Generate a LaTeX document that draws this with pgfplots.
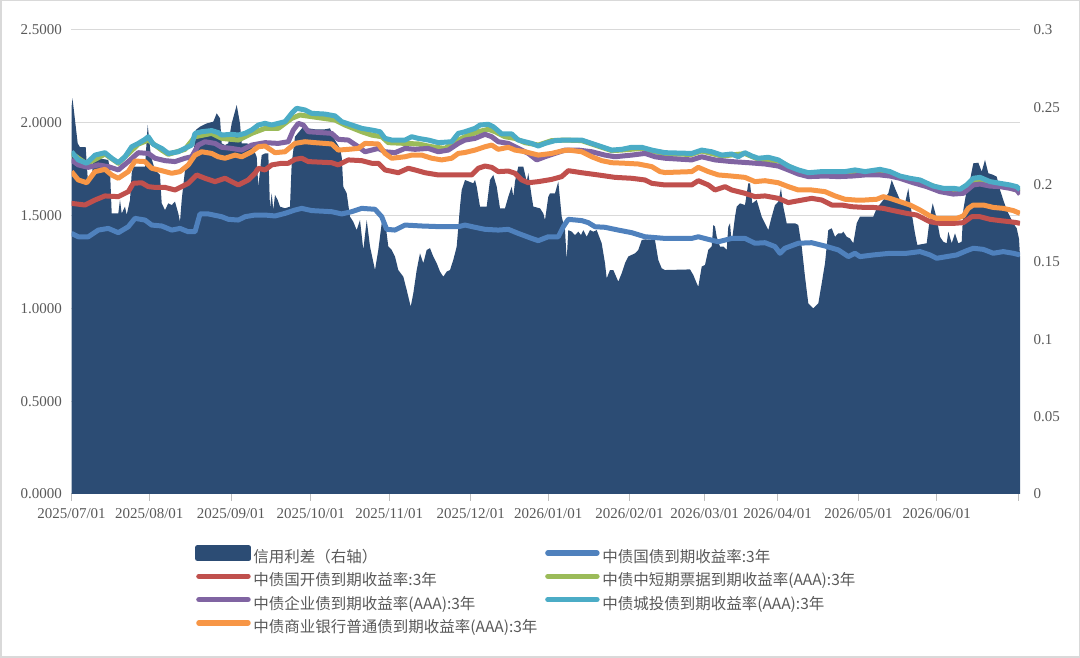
\documentclass[border=0pt]{standalone}
\usepackage{pgfplots}
\pgfplotsset{compat=1.18}
\usepackage{fontspec}
\setmainfont{Liberation Serif}
\newfontfamily\cjk{Noto Sans CJK SC}
\definecolor{navy}{HTML}{2C4C74}
\definecolor{cblue}{HTML}{4F81BD}
\definecolor{cred}{HTML}{C0504D}
\definecolor{cgreen}{HTML}{9BBB59}
\definecolor{cpurple}{HTML}{8064A2}
\definecolor{cteal}{HTML}{4BACC6}
\definecolor{corange}{HTML}{F79646}
\definecolor{labelgray}{HTML}{595959}
\definecolor{gridgray}{HTML}{D9D9D9}
\definecolor{axisgray}{HTML}{BFBFBF}
\pgfplotsset{common/.style={scale only axis, width=948.5pt, height=464pt,
  at={(71.5pt,164pt)}, anchor=south west, xmin=71.5, xmax=1020}}
\begin{document}
\begin{tikzpicture}[x=1pt,y=1pt]
\useasboundingbox (0,0) rectangle (1080,658);
\draw[draw=gridgray, line width=1.5pt] (0.75,0.75) rectangle (1079.25,657.25);
% axis A: grid, left labels, dates
\begin{axis}[common, ymin=0, ymax=2.5,
  ytick={0,0.5,1,1.5,2,2.5},
  yticklabels={0.0000,0.5000,1.0000,1.5000,2.0000,2.5000},
  ymajorgrids, grid style={draw=gridgray, line width=1pt},
  axis x line*=bottom, axis y line*=left,
  y axis line style={draw=none},
  x axis line style={draw=axisgray, line width=1pt, -},
  ytick style={draw=none},
  xtick={71.5,149.3,231,310.7,389.3,470.7,548.2,629.5,704.6,777.6,858.5,936.7,1018},
  xticklabels={2025/07/01,2025/08/01,2025/09/01,2025/10/01,2025/11/01,2025/12/01,2026/01/01,2026/02/01,2026/03/01,2026/04/01,2026/05/01,2026/06/01,{}},
  xtick align=outside, xtick style={draw=axisgray, line width=1pt},
  major tick length=7pt,
  tick label style={font=\fontsize{15}{18}\selectfont, text=labelgray},
  xticklabel style={yshift=-4pt},
  yticklabel style={xshift=-6pt}]
\addplot[draw=none] coordinates {(500,1)};
\end{axis}
% axis B: credit spread area, right axis
\begin{axis}[common, ymin=0, ymax=0.3,
  axis y line*=right, axis x line=none,
  y axis line style={draw=none}, ytick style={draw=none},
  xtick=\empty,
  ytick={0,0.05,0.1,0.15,0.2,0.25,0.3},
  yticklabels={0,0.05,0.1,0.15,0.2,0.25,0.3},
  yticklabel style={font=\fontsize{15}{18}\selectfont, text=labelgray, xshift=10pt}]
\addplot[fill=navy, draw=none] coordinates {
(71.5,.2500)(72.5,.2558)(77.7,.2267)(80,.2242)(85.7,.2242)(87.7,.2041)(91.7,.2041)(93.5,.2171)(98.3,.2171)(108.3,.2160)(110,.2095)(111.7,.1814)(118.3,.1814)(120,.1901)(121.7,.1814)(125,.1858)(126.7,.1804)(130,.1901)(131.7,.2074)(133.3,.2117)(145,.2117)(147.7,.2386)(151,.2180)(155,.2095)(160,.2063)(161.7,.1879)(165,.1836)(168.3,.1879)(171.7,.1868)(175,.1890)(178.3,.1814)(180,.1760)(181.7,.1901)(185,.2095)(190,.2138)(193.3,.2180)(195.7,.2353)(200,.2375)(206.7,.2396)(213.3,.2407)(216.7,.2461)(220,.2429)(221.7,.2267)(225,.2256)(228.3,.2267)(231.7,.2396)(236.7,.2515)(240,.2396)(241.7,.2267)(246.7,.2267)(251.7,.2256)(256.7,.2180)(258.3,.1987)(261.7,.2191)(265,.2202)(268.3,.2202)(270,.1847)(271.7,.1944)(273.3,.1836)(275,.1933)(277.7,.1901)(280,.1858)(285,.1847)(290,.1858)(291.7,.2138)(295,.2310)(303.3,.2375)(308.3,.2364)(315,.2358)(325,.2358)(330,.2364)(335,.2288)(340,.2234)(341.7,.2180)(343.3,.1987)(346.7,.1944)(350,.1793)(353.3,.1760)(356.7,.1706)(360,.1771)(363.3,.1578)(366.7,.1771)(370,.1600)(375,.1448)(378.3,.1578)(381.7,.1750)(385,.1771)(388.3,.1600)(391.7,.1578)(395,.1535)(398.3,.1448)(403.3,.1405)(406.7,.1319)(410.7,.1211)(413.3,.1297)(416.7,.1448)(420,.1556)(423.3,.1492)(426.7,.1578)(430,.1589)(433.3,.1535)(436.7,.1492)(440,.1438)(443.3,.1405)(446.7,.1438)(450,.1448)(453.3,.1513)(456.7,.1600)(460,.1858)(461.7,.1966)(465,.2030)(473.3,.2009)(475,.2030)(476.7,.1987)(480,.1858)(486.7,.1858)(490,.2030)(493.3,.2063)(496.7,.1987)(500,.1847)(505,.1847)(508.3,.1922)(511.7,.1987)(513.3,.1922)(515,.2020)(518.3,.2117)(523.3,.2117)(526.7,.2020)(528.3,.2074)(531.7,.1922)(533.3,.1858)(540,.1847)(543.3,.1814)(545,.1771)(548.3,.1922)(550,.1944)(555,.1944)(558.3,.2020)(561.7,.1793)(565,.1706)(566.7,.1513)(568.3,.1706)(571.7,.1696)(575,.1674)(578.3,.1696)(581,.1674)(583.3,.1706)(586.7,.1663)(590,.1706)(593.3,.1696)(596.7,.1706)(601.7,.1621)(605,.1492)(606.7,.1394)(610,.1448)(613.3,.1448)(618.3,.1373)(621.7,.1427)(625,.1492)(628.3,.1535)(631.7,.1546)(635,.1556)(638.3,.1578)(641.7,.1642)(645,.1646)(655,.1642)(658.3,.1513)(661.7,.1459)(665,.1448)(690,.1452)(693.3,.1416)(696.7,.1362)(698.3,.1340)(700,.1405)(701.7,.1470)(705,.1481)(708.3,.1578)(711.7,.1600)(713.3,.1739)(715,.1728)(716.7,.1663)(720,.1600)(723.3,.1600)(726.7,.1578)(728.3,.1728)(730,.1750)(731.7,.1621)(733.3,.1706)(735,.1793)(736.7,.1858)(740,.1879)(745,.1868)(748.3,.2009)(750,.2009)(752.3,.1879)(756.7,.1901)(761.7,.1793)(765,.1750)(768.3,.1706)(771.7,.1793)(775,.1868)(778.3,.1890)(781,.1976)(783.3,.1858)(786.7,.1750)(795,.1750)(798.3,.1739)(801.7,.1600)(805,.1405)(808.3,.1232)(813.3,.1200)(818.3,.1232)(821.7,.1362)(825,.1492)(828.3,.1706)(831.7,.1718)(835,.1663)(838.3,.1685)(841.7,.1685)(843.3,.1696)(846.7,.1663)(850,.1652)(853.3,.1621)(856.7,.1750)(860,.1793)(873.3,.1793)(876.7,.1847)(883.3,.1901)(888.3,.1944)(891.7,.2030)(895,.1976)(900,.1901)(905,.1879)(908.3,.1976)(911.7,.1814)(915,.1685)(917.3,.1610)(926.7,.1621)(930,.1793)(932.7,.1879)(936.7,.1782)(940,.1663)(943.3,.1631)(946.7,.1621)(948.3,.1696)(951.7,.1621)(955,.1685)(958.3,.1621)(961.7,.1631)(963.3,.1836)(966.7,.1966)(970,.2030)(973.3,.2138)(978.3,.2142)(981.7,.2084)(985,.2160)(988.3,.2074)(993.3,.2063)(996.7,.2052)(1000,.1966)(1003.3,.1901)(1006.7,.1836)(1010,.1793)(1013.3,.1750)(1016.7,.1718)(1019,.1650)(1020,.1540)
} \closedcycle;
\end{axis}
% axis C: yield lines + legend
\begin{axis}[common, ymin=0, ymax=2.5, hide axis,
  every axis plot/.append style={line width=5pt, line join=round},
  legend image code/.code={\draw[#1, line width=5.5pt, line cap=round] (3pt,5.5pt) -- (52pt,5.5pt); \path (0pt,0pt) (55pt,11pt);},
  legend columns=2, legend cell align=left,
  legend style={at={(axis description cs:0.1286,-0.1099)}, anchor=north west,
    draw=none, fill=none, inner sep=0pt, outer sep=0pt,
    row sep=2.8pt, column sep=0pt,
    nodes={inner sep=0pt, text height=11pt, text depth=3pt},
    /tikz/every even column/.append style={column sep=5pt},
    font=\cjk\fontsize{15.5}{18}\selectfont, text=labelgray}]
\addlegendimage{legend image code/.code={\fill[navy] (1.5pt,0pt) rectangle (53pt,10.7pt); \path (0pt,0pt) (55pt,11pt);}}
\addlegendentry{信用利差（右轴）}
\addplot[cblue] coordinates {
(71.5,1.404)(78.3,1.386)(88.3,1.386)(98.3,1.422)(108.3,1.431)(118.3,1.408)(128.3,1.440)(135,1.485)(145,1.476)(151.7,1.449)(161.7,1.444)(171.7,1.422)(180,1.431)(188.3,1.413)(195,1.413)(200,1.509)(208.3,1.509)(221.7,1.494)(228.3,1.480)(238.3,1.476)(245,1.494)(255,1.503)(265,1.503)(275,1.498)(285,1.512)(295,1.530)(301.7,1.539)(311.7,1.527)(331.7,1.521)(341.7,1.509)(351.7,1.521)(361.7,1.539)(375,1.534)(381.7,1.494)(386.7,1.426)(395,1.422)(405,1.449)(421.7,1.444)(441.7,1.440)(458.3,1.440)(465,1.449)(475,1.437)(485,1.426)(498.3,1.422)(508.3,1.426)(518.3,1.404)(531.7,1.377)(538.3,1.365)(548.3,1.386)(558.3,1.386)(563.3,1.440)(568.3,1.480)(581.7,1.473)(588.3,1.462)(595,1.440)(605,1.437)(618.3,1.422)(631.7,1.408)(645,1.386)(665,1.377)(691.7,1.377)(698.3,1.386)(708.3,1.372)(718.3,1.359)(731.7,1.377)(745,1.377)(755,1.351)(765,1.354)(775,1.333)(780,1.297)(785,1.324)(798.3,1.351)(811.7,1.354)(825,1.336)(838.3,1.315)(848.3,1.279)(855,1.297)(860,1.279)(873.3,1.288)(890,1.297)(906.7,1.297)(920,1.306)(930,1.288)(936.7,1.270)(946.7,1.279)(956.7,1.288)(966.7,1.311)(973.3,1.324)(983.3,1.318)(993.3,1.297)(1003.3,1.306)(1013.3,1.297)(1020,1.288)
};
\addlegendentry{中债国债到期收益率:3年}
\addplot[cred] coordinates {
(71.5,1.566)(85,1.557)(95,1.584)(105,1.606)(118.3,1.602)(128.3,1.629)(133.3,1.674)(141.7,1.677)(148.3,1.656)(155,1.652)(165,1.652)(175,1.638)(181.7,1.656)(188.3,1.674)(196.7,1.719)(205,1.701)(215,1.683)(225,1.701)(238.3,1.665)(248.3,1.692)(255,1.728)(258.3,1.755)(265,1.746)(271.7,1.773)(281.7,1.782)(288.3,1.782)(295,1.803)(301.7,1.809)(308.3,1.791)(331.7,1.785)(338.3,1.773)(348.3,1.800)(361.7,1.796)(371.7,1.782)(378.3,1.782)(385,1.746)(398.3,1.731)(408.3,1.755)(415,1.746)(425,1.731)(438.3,1.719)(451.7,1.719)(465,1.720)(471.7,1.719)(478.3,1.755)(485,1.767)(491.7,1.760)(498.3,1.737)(508.3,1.740)(515,1.728)(521.7,1.692)(528.3,1.677)(538.3,1.683)(551.7,1.695)(561.7,1.710)(568.3,1.742)(581.7,1.731)(598.3,1.719)(615,1.706)(631.7,1.701)(645,1.692)(651.7,1.674)(665,1.665)(691.7,1.665)(698.3,1.688)(708.3,1.665)(715,1.638)(725,1.656)(731.7,1.638)(745,1.620)(755,1.602)(765,1.606)(778.3,1.593)(788.3,1.570)(798.3,1.580)(811.7,1.593)(821.7,1.584)(831.7,1.557)(841.7,1.557)(851.7,1.548)(865,1.544)(873.3,1.544)(883.3,1.539)(893.3,1.527)(906.7,1.512)(916.7,1.503)(930,1.467)(940,1.458)(953.3,1.458)(963.3,1.462)(971.7,1.494)(980,1.494)(990,1.480)(1000,1.473)(1010,1.467)(1016.7,1.462)(1020,1.458)
};
\addlegendentry{中债国开债到期收益率:3年}
\addplot[cgreen] coordinates {
(71.5,1.835)(86.7,1.778)(105,1.832)(118.3,1.782)(138.3,1.885)(148.3,1.907)(161.7,1.853)(168.3,1.830)(185,1.857)(195,1.925)(211.7,1.943)(221.7,1.916)(238.3,1.907)(251.7,1.943)(265,1.970)(278.3,1.970)(291.7,2.024)(300,2.042)(311.7,2.033)(335,2.015)(345,1.988)(361.7,1.952)(371.7,1.934)(381.7,1.925)(388.3,1.893)(405,1.889)(418.3,1.886)(431.7,1.871)(445,1.862)(455,1.898)(465,1.925)(478.3,1.952)(488.3,1.965)(495,1.952)(505,1.925)(515,1.916)(525,1.893)(538.3,1.880)(551.7,1.904)(565,1.907)(581.7,1.904)(591.7,1.886)(601.7,1.868)(611.7,1.850)(621.7,1.853)(641.7,1.862)(665,1.832)(691.7,1.830)(701.7,1.848)(721.7,1.821)(745,1.834)(758.3,1.804)(778.3,1.795)(798.3,1.740)(808.3,1.725)(835,1.732)(865,1.732)(880,1.744)(900,1.708)(920,1.685)(943.3,1.640)(960,1.636)(973.3,1.690)(980,1.695)(1000,1.668)(1020,1.632)
};
\addlegendentry{中债中短期票据到期收益率(AAA):3年}
\addplot[cpurple] coordinates {
(71.5,1.800)(78.3,1.773)(88.3,1.760)(98.3,1.773)(108.3,1.764)(118.3,1.746)(128.3,1.791)(138.3,1.839)(148.3,1.835)(155,1.809)(165,1.796)(175,1.791)(185,1.809)(191.7,1.817)(198.3,1.880)(205,1.898)(215,1.889)(221.7,1.868)(231.7,1.862)(241.7,1.853)(251.7,1.880)(265,1.893)(278.3,1.889)(288.3,1.898)(293.3,1.961)(298.3,1.997)(303.3,1.988)(308.3,1.952)(321.7,1.947)(331.7,1.943)(338.3,1.911)(348.3,1.907)(358.3,1.871)(365,1.844)(371.7,1.853)(378.3,1.862)(385,1.844)(395,1.839)(405,1.862)(415,1.857)(428.3,1.862)(438.3,1.844)(448.3,1.853)(458.3,1.889)(465,1.907)(475,1.916)(485,1.938)(491.7,1.925)(498.3,1.898)(508.3,1.889)(518.3,1.862)(528.3,1.835)(536.7,1.800)(545,1.817)(555,1.835)(565,1.853)(578.3,1.853)(591.7,1.844)(605,1.826)(615,1.817)(631.7,1.826)(645,1.835)(655,1.817)(665,1.809)(691.7,1.800)(701.7,1.817)(715,1.800)(731.7,1.791)(748.3,1.785)(765,1.778)(778.3,1.767)(788.3,1.746)(798.3,1.724)(808.3,1.710)(825,1.713)(838.3,1.710)(851.7,1.713)(865,1.719)(880,1.719)(890,1.713)(900,1.701)(913.3,1.677)(926.7,1.656)(940,1.629)(953.3,1.616)(963.3,1.620)(973.3,1.665)(980,1.670)(990,1.659)(1000,1.656)(1010,1.647)(1016.7,1.638)(1020,1.615)
};
\addlegendentry{中债企业债到期收益率(AAA):3年}
\addplot[cteal] coordinates {
(71.5,1.844)(78.3,1.800)(86.7,1.782)(95,1.826)(105,1.839)(111.7,1.809)(118.3,1.785)(125,1.817)(131.7,1.871)(138.3,1.889)(145,1.911)(148.3,1.925)(153.3,1.884)(161.7,1.862)(168.3,1.835)(178.3,1.844)(185,1.862)(191.7,1.880)(195,1.943)(201.7,1.952)(211.7,1.958)(218.3,1.947)(221.7,1.934)(231.7,1.938)(238.3,1.934)(245,1.943)(251.7,1.961)(258.3,1.988)(265,1.997)(271.7,1.988)(278.3,1.997)(285,2.006)(291.7,2.051)(296.7,2.078)(305,2.069)(311.7,2.051)(325,2.047)(335,2.037)(341.7,2.006)(351.7,1.988)(361.7,1.970)(371.7,1.961)(380,1.952)(385,1.916)(391.7,1.907)(405,1.907)(411.7,1.925)(418.3,1.916)(428.3,1.907)(438.3,1.893)(451.7,1.898)(458.3,1.943)(465,1.952)(475,1.970)(480,1.988)(488.3,1.992)(493.3,1.979)(501.7,1.940)(511.7,1.940)(518.3,1.907)(531.7,1.889)(538.3,1.875)(545,1.889)(555,1.904)(565,1.907)(581.7,1.907)(591.7,1.889)(601.7,1.871)(611.7,1.853)(621.7,1.857)(631.7,1.868)(641.7,1.868)(651.7,1.853)(665,1.839)(691.7,1.835)(701.7,1.853)(711.7,1.844)(721.7,1.826)(731.7,1.832)(738.3,1.817)(745,1.839)(751.7,1.821)(758.3,1.809)(768.3,1.814)(778.3,1.800)(788.3,1.767)(798.3,1.746)(808.3,1.731)(821.7,1.737)(835,1.737)(845,1.737)(855,1.746)(865,1.737)(880,1.749)(890,1.737)(900,1.713)(910,1.701)(920,1.692)(933.3,1.659)(943.3,1.647)(953.3,1.647)(960,1.642)(966.7,1.665)(973.3,1.701)(980,1.706)(990,1.683)(1000,1.674)(1010,1.665)(1016.7,1.656)(1020,1.640)
};
\addlegendentry{中债城投债到期收益率(AAA):3年}
\addplot[corange] coordinates {
(71.5,1.737)(78.3,1.692)(86.7,1.677)(95,1.737)(105,1.749)(111.7,1.719)(118.3,1.701)(128.3,1.737)(135,1.794)(145,1.791)(151.7,1.755)(161.7,1.742)(171.7,1.728)(180,1.737)(188.3,1.773)(195,1.826)(201.7,1.844)(211.7,1.835)(218.3,1.817)(225,1.809)(235,1.826)(241.7,1.817)(251.7,1.844)(258.3,1.871)(265,1.875)(275,1.839)(285,1.844)(295,1.889)(305,1.898)(315,1.893)(331.7,1.886)(338.3,1.853)(348.3,1.857)(358.3,1.862)(365,1.889)(378.3,1.886)(385,1.835)(391.7,1.809)(405,1.817)(411.7,1.826)(421.7,1.826)(431.7,1.809)(441.7,1.800)(451.7,1.809)(458.3,1.835)(465,1.840)(475,1.853)(485,1.871)(491.7,1.880)(498.3,1.857)(508.3,1.868)(515,1.853)(525,1.844)(538.3,1.826)(551.7,1.835)(561.7,1.848)(568.3,1.853)(581.7,1.844)(591.7,1.817)(601.7,1.796)(611.7,1.785)(625,1.782)(638.3,1.778)(651.7,1.764)(660,1.737)(665,1.732)(691.7,1.737)(698.3,1.760)(708.3,1.737)(718.3,1.719)(731.7,1.713)(745,1.706)(755,1.683)(765,1.688)(778.3,1.677)(788.3,1.656)(798.3,1.638)(811.7,1.638)(825,1.629)(835,1.606)(845,1.588)(855,1.584)(865,1.584)(876.7,1.588)(883.3,1.602)(890,1.593)(900,1.575)(910,1.557)(920,1.530)(930,1.498)(936.7,1.485)(956.7,1.485)(963.3,1.498)(968.3,1.539)(973.3,1.557)(983.3,1.557)(993.3,1.544)(1003.3,1.539)(1013.3,1.527)(1020,1.512)
};
\addlegendentry{中债商业银行普通债到期收益率(AAA):3年}
\end{axis}
\end{tikzpicture}
\end{document}
